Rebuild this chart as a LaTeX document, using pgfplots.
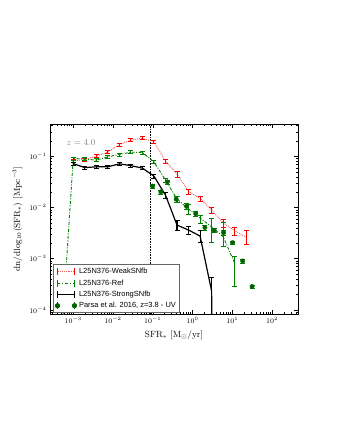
\documentclass[border=0pt]{standalone}
\usepackage{fontspec}
\newfontfamily\legfont{Liberation Sans}
\usepackage{pgfplots}
\pgfplotsset{compat=1.18}

\definecolor{mplred}{rgb}{1,0,0}
\definecolor{lightred}{rgb}{1,0.35,0.35}
\definecolor{mplgreen}{rgb}{0,0.5,0}
\definecolor{parsagreen}{rgb}{0,0.39,0}

\begin{document}
\begin{tikzpicture}
\useasboundingbox (-50bp,-126bp) rectangle (290bp,314bp);
\begin{axis}[
    scale only axis,
    width=248bp, height=190bp,
    xmode=log, ymode=log,
    xmin=2.6e-4, xmax=4.5e2,
    ymin=8.3e-5, ymax=0.43,
    tick pos=both, tick align=inside,
    major tick length=4bp, minor tick length=2bp,
    axis line style={line width=0.8bp},
    every tick/.style={black, line width=0.5bp},
    tick label style={font=\fontsize{7}{8}\selectfont},
    label style={font=\fontsize{9}{10}\selectfont},
    xlabel={SFR$_*$ [M$_\odot$/yr]},
    ylabel={dn/dlog$_{10}$(SFR$_*$) [Mpc$^{-3}$]},
    legend cell align=left,
    legend style={at={(axis description cs:0.012,0.005)}, anchor=south west,
        draw=black!60, line width=0.8bp, fill=white,
        font=\legfont\fontsize{7.5}{9}\selectfont,
        inner sep=1.5bp, row sep=0.4bp},
    error bars/error mark options={rotate=90, mark size=2.5bp},
]

% resolution limit
\addplot[densely dotted, black, line width=0.6bp, forget plot]
    coordinates {(0.088,1e-6) (0.088,1)};

% WeakSNfb
\addplot[lightred, densely dotted, line width=0.9bp,
    legend image code/.code={
        \draw[draw=lightred, densely dotted, line width=1.2bp] (0bp,0bp) -- (17bp,0bp);
        \draw[draw=mplred, solid, line width=1.1bp] (0bp,-3.5bp) -- (0bp,3.5bp) (17bp,-3.5bp) -- (17bp,3.5bp);},
    error bars/.cd, y dir=both, y explicit relative,
    error bar style={mplred, solid, line width=0.9bp}]
coordinates {
(0.001,0.082) += (0,0.07) -= (0,0.065)
(0.00195,0.087) += (0,0.07) -= (0,0.065)
(0.0038,0.101) += (0,0.07) -= (0,0.065)
(0.00741,0.121) += (0,0.07) -= (0,0.065)
(0.01445,0.171) += (0,0.07) -= (0,0.065)
(0.0282,0.208) += (0,0.07) -= (0,0.065)
(0.055,0.227) += (0,0.07) -= (0,0.065)
(0.107,0.193) += (0,0.07) -= (0,0.065)
(0.209,0.082) += (0,0.094) -= (0,0.086)
(0.407,0.045) += (0,0.144) -= (0,0.126)
(0.794,0.0207) += (0,0.119) -= (0,0.106)
(1.549,0.0151) += (0,0.119) -= (0,0.106)
(3.02,0.00893) += (0,0.16) -= (0,0.138)
(5.89,0.00505) += (0,0.197) -= (0,0.165)
(11.48,0.00352) += (0,0.197) -= (0,0.165)
(22.4,0.00262) += (0,0.37) -= (0,0.27)
};
\addlegendentry{L25N376-WeakSNfb}

% Ref
\addplot[mplgreen, dash pattern=on 3bp off 1.5bp on 1bp off 1.5bp, line width=0.9bp,
    legend image code/.code={
        \draw[draw=mplgreen, dash pattern=on 3bp off 1.8bp on 1bp off 1.8bp, line width=1.2bp] (0bp,0bp) -- (17bp,0bp);
        \draw[draw=mplgreen, solid, line width=1.1bp] (0bp,-3.5bp) -- (0bp,3.5bp) (17bp,-3.5bp) -- (17bp,3.5bp);},
    error bars/.cd, y dir=both, y explicit relative,
    error bar style={mplgreen, solid, line width=0.9bp}]
coordinates {
(0.00051,3e-5) += (0,0) -= (0,0)
(0.001,0.0914) += (0,0.07) -= (0,0.065)
(0.00195,0.0886) += (0,0.07) -= (0,0.065)
(0.0038,0.0847) += (0,0.07) -= (0,0.065)
(0.00741,0.098) += (0,0.07) -= (0,0.065)
(0.01445,0.109) += (0,0.07) -= (0,0.065)
(0.0282,0.121) += (0,0.07) -= (0,0.065)
(0.055,0.119) += (0,0.07) -= (0,0.065)
(0.107,0.0785) += (0,0.07) -= (0,0.065)
(0.209,0.0344) += (0,0.094) -= (0,0.086)
(0.407,0.0147) += (0,0.144) -= (0,0.126)
(0.794,0.00935) += (0,0.25) -= (0,0.2)
(1.549,0.00624) += (0,0.144) -= (0,0.2)
(3.02,0.0042) += (0,0.5) -= (0,0.5)
(5.89,0.0027) += (0,0.9) -= (0,0.35)
(11.48,0.00082) += (0,0.35) -= (0,0.65)
};
\addlegendentry{L25N376-Ref}

% StrongSNfb
\addplot[black, solid, line width=1.2bp,
    legend image code/.code={
        \draw[draw=black, line width=1.3bp] (0bp,0bp) -- (17bp,0bp);
        \draw[draw=black, line width=1.2bp] (0bp,-3.5bp) -- (0bp,3.5bp) (17bp,-3.5bp) -- (17bp,3.5bp);},
    error bars/.cd, y dir=both, y explicit relative,
    error bar style={black, line width=1.1bp}]
coordinates {
(0.001,0.0723) += (0,0.07) -= (0,0.065)
(0.00195,0.0604) += (0,0.07) -= (0,0.065)
(0.0038,0.0626) += (0,0.07) -= (0,0.065)
(0.00741,0.0626) += (0,0.07) -= (0,0.065)
(0.01445,0.0716) += (0,0.07) -= (0,0.065)
(0.0282,0.066) += (0,0.07) -= (0,0.065)
(0.055,0.059) += (0,0.07) -= (0,0.065)
(0.107,0.0412) += (0,0.094) -= (0,0.086)
(0.209,0.0175) += (0,0.12) -= (0,0.11)
(0.407,0.00455) += (0,0.25) -= (0,0.2)
(0.794,0.00364) += (0,0.2) -= (0,0.165)
(1.549,0.00277) += (0,0.3) -= (0,0.235)
(3.02,0.000234) += (0,0.9) -= (0,0.9999)
(5.89,1e-30) += (0,0) -= (0,0)
};
\addlegendentry{L25N376-StrongSNfb}

% Parsa et al. 2016
\addplot[only marks, mark=*, mark size=2.2bp, parsagreen,
    mark options={fill=parsagreen, draw=parsagreen},
    legend image code/.code={
        \draw[draw=mplgreen, line width=1.1bp] (0bp,-3.5bp) -- (0bp,3.5bp) (17bp,-3.5bp) -- (17bp,3.5bp);
        \fill[fill=parsagreen] (0bp,0bp) circle (2.2bp) (17bp,0bp) circle (2.2bp);},
    error bars/.cd, y dir=both, y explicit relative,
    error bar style={mplgreen, line width=0.9bp}]
coordinates {
(0.099,0.0263) += (0,0.1) -= (0,0.1)
(0.160,0.0203) += (0,0.1) -= (0,0.1)
(0.233,0.0318) += (0,0.1) -= (0,0.1)
(0.388,0.0146) += (0,0.15) -= (0,0.13)
(0.709,0.01057) += (0,0.15) -= (0,0.13)
(1.205,0.00758) += (0,0.12) -= (0,0.1)
(2.05,0.00408) += (0,0.1) -= (0,0.1)
(3.50,0.0036) += (0,0.1) -= (0,0.1)
(6.03,0.00324) += (0,0.1) -= (0,0.1)
(10.2,0.00206) += (0,0.08) -= (0,0.08)
(18.2,0.000902) += (0,0.08) -= (0,0.08)
(31.5,0.000286) += (0,0.08) -= (0,0.08)
};
\addlegendentry{Parsa et al. 2016, z=3.8 - UV}

\node[gray, font=\fontsize{9.5}{11}\selectfont] at (axis description cs:0.125,0.90) {$z=4.0$};
\end{axis}
\end{tikzpicture}
\end{document}
